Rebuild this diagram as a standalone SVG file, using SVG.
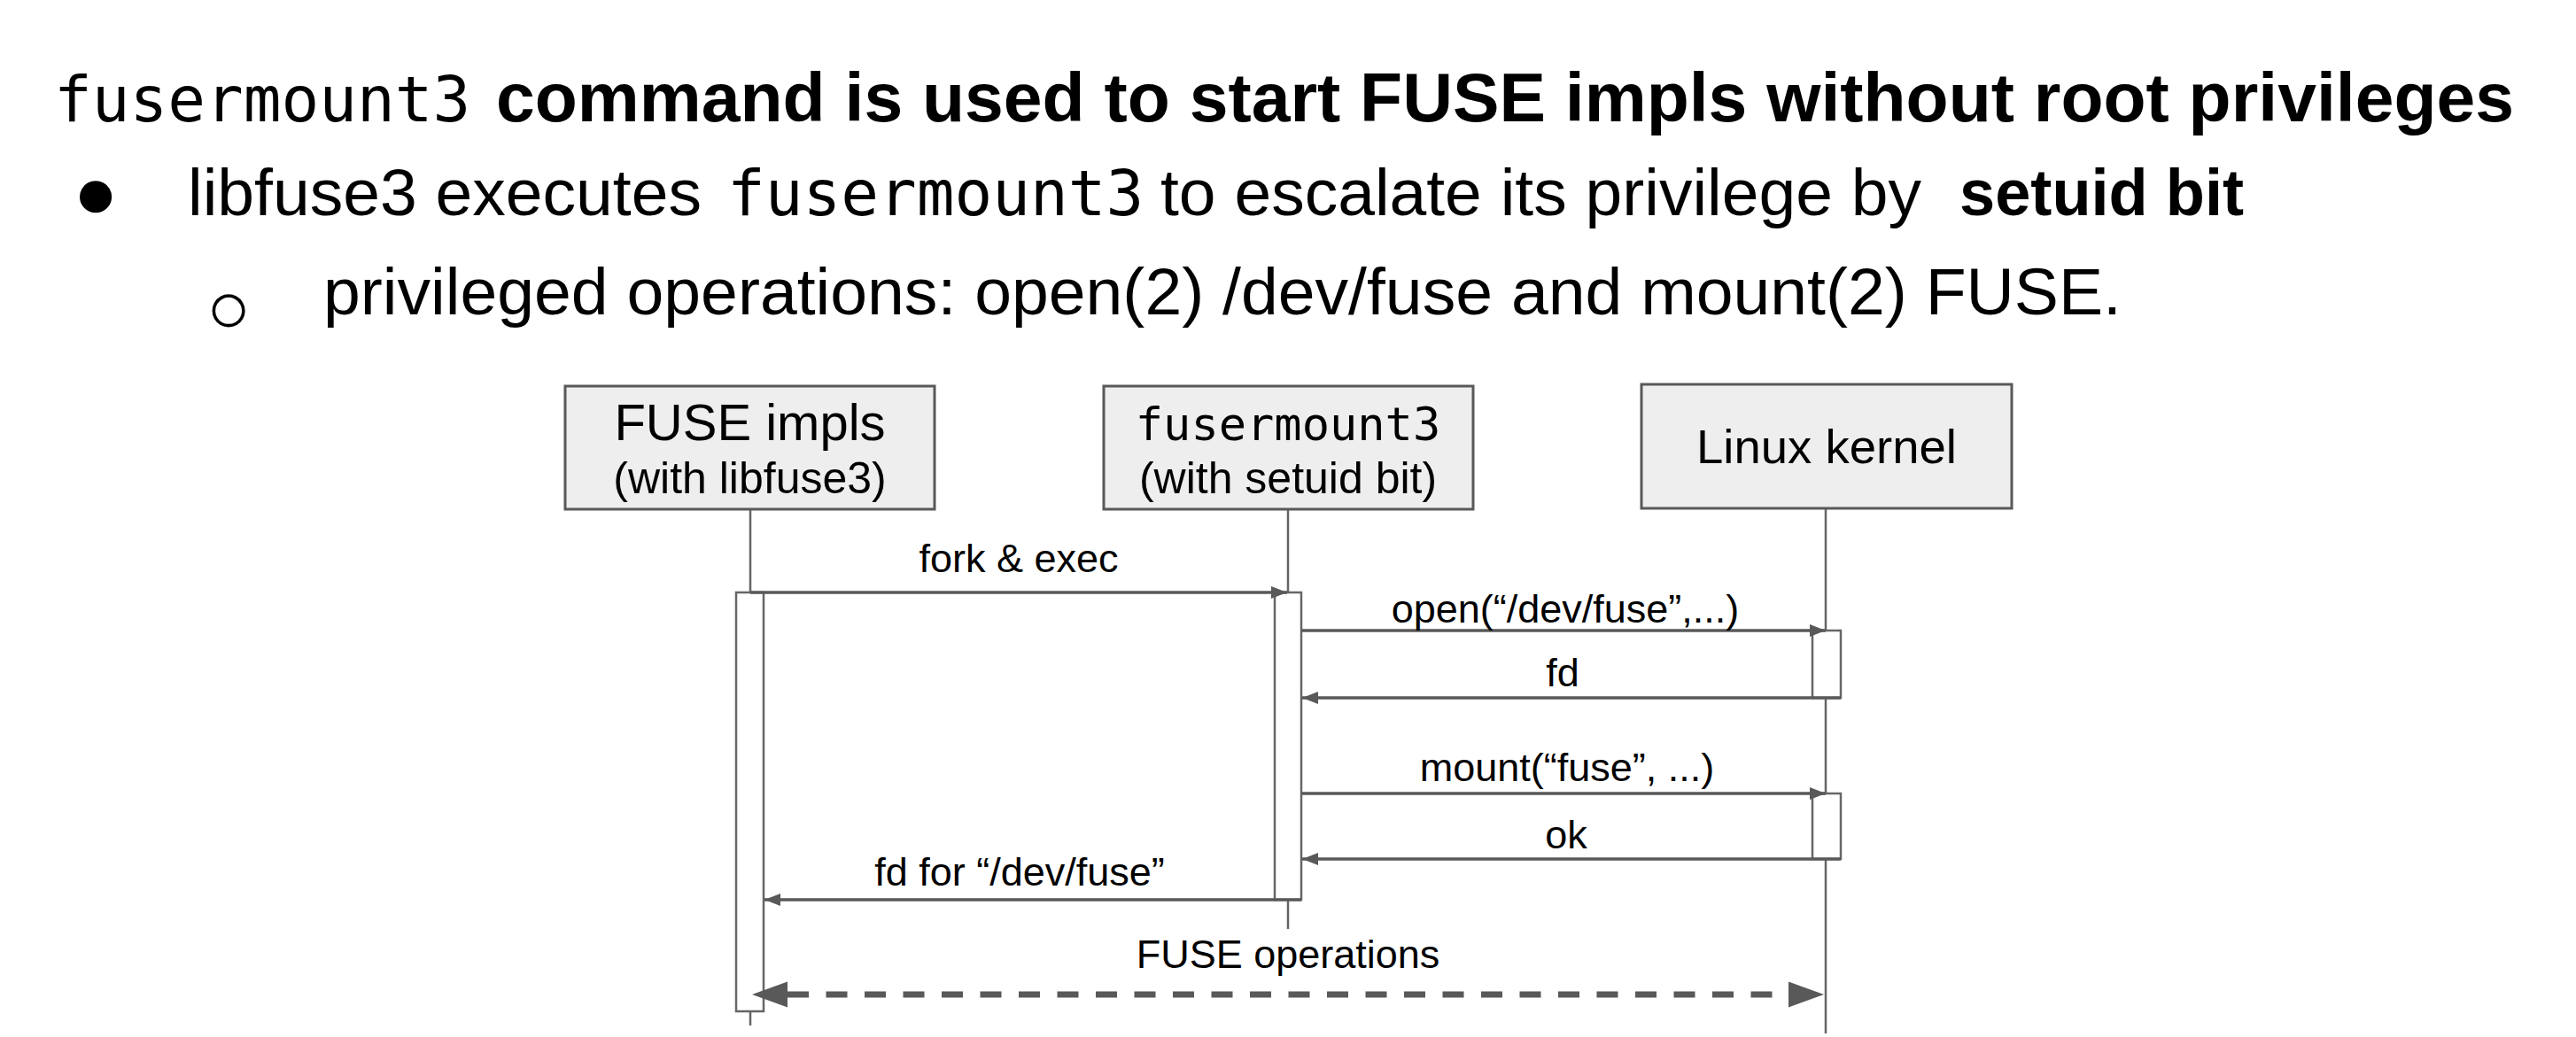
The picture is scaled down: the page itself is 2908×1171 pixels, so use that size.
<svg xmlns="http://www.w3.org/2000/svg" width="2908" height="1171" viewBox="0 0 2908 1171">
<defs>
<style>
.sans{font-family:"Liberation Sans",Arial,Helvetica,sans-serif;fill:#000}
.mono{font-family:"DejaVu Sans Mono","Liberation Mono",monospace;fill:#000}
.bold{font-weight:bold}
.box{fill:#eeeeee;stroke:#595959;stroke-width:3}
.life{stroke:#666666;stroke-width:2.5;fill:none}
.act{fill:#ffffff;stroke:#666666;stroke-width:2.5}
.msg{stroke:#595959;stroke-width:3.5;fill:none;marker-end:url(#ah)}
.lbl{font-size:45px;text-anchor:middle}
.dash{stroke:#595959;stroke-width:7;fill:none;stroke-dasharray:24 19.5;marker-start:url(#big);marker-end:url(#big)}
</style>
<marker id="ah" markerUnits="userSpaceOnUse" markerWidth="20" markerHeight="16" refX="18" refY="7" orient="auto">
<path d="M0,0 L18,7 L0,14 z" fill="#595959"/>
</marker>
<marker id="big" markerUnits="userSpaceOnUse" markerWidth="42" markerHeight="30" refX="0" refY="14.5" orient="auto-start-reverse">
<path d="M0,0 L40,14.5 L0,29 z" fill="#595959"/>
</marker>
</defs>
<rect width="2908" height="1171" fill="#ffffff"/>

<g id="header">
<text class="mono" x="61" y="137" font-size="71">fusermount3</text>
<text class="sans bold" x="560" y="137" font-size="78" textLength="2278" lengthAdjust="spacingAndGlyphs">command is used to start FUSE impls without root privileges</text>
<text class="sans" x="108" y="246" font-size="84" text-anchor="middle">●</text>
<text class="sans" x="212" y="243" font-size="75" textLength="580" lengthAdjust="spacingAndGlyphs">libfuse3 executes</text>
<text class="mono" x="821" y="243" font-size="71">fusermount3</text>
<text class="sans" x="1310" y="243" font-size="75" textLength="859" lengthAdjust="spacingAndGlyphs">to escalate its privilege by</text>
<text class="sans bold" x="2212" y="243" font-size="75" textLength="321" lengthAdjust="spacingAndGlyphs">setuid bit</text>
<text class="sans" x="258" y="376" font-size="84" text-anchor="middle">○</text>
<text class="sans" x="365" y="355" font-size="75" textLength="2030" lengthAdjust="spacingAndGlyphs">privileged operations: open(2) /dev/fuse and mount(2) FUSE.</text>
</g>

<g id="lifelines">
<line class="life" x1="847" y1="575" x2="847" y2="1158"/>
<line class="life" x1="1454" y1="575" x2="1454" y2="1049"/>
<line class="life" x1="2061" y1="574" x2="2061" y2="1167"/>
</g>

<g id="node-fuse-impls">
<rect class="box" x="638" y="436" width="417" height="139"/>
<text class="sans" x="846.5" y="497" font-size="58" text-anchor="middle">FUSE impls</text>
<text class="sans" x="846.5" y="557" font-size="50" text-anchor="middle">(with libfuse3)</text>
<rect class="act" x="831" y="669" width="31" height="473"/>
</g>

<g id="node-fusermount3">
<rect class="box" x="1246" y="436" width="417" height="139"/>
<text class="mono" x="1454" y="497" font-size="52" text-anchor="middle">fusermount3</text>
<text class="sans" x="1454" y="557" font-size="50" text-anchor="middle">(with setuid bit)</text>
<rect class="act" x="1439" y="669" width="30" height="347"/>
</g>

<g id="node-linux-kernel">
<rect class="box" x="1853" y="434" width="418" height="140"/>
<text class="sans" x="2062" y="523" font-size="54.5" text-anchor="middle">Linux kernel</text>
<rect class="act" x="2046" y="712" width="32" height="76"/>
<rect class="act" x="2046" y="896" width="32" height="74"/>
</g>

<g id="connectors">
<line class="msg" x1="847" y1="669" x2="1453" y2="669"/>
<text class="sans lbl" x="1150" y="646">fork &amp; exec</text>
<line class="msg" x1="1469" y1="712" x2="2061" y2="712"/>
<text class="sans lbl" x="1767" y="703">open(“/dev/fuse”,...)</text>
<line class="msg" x1="2078" y1="788" x2="1470" y2="788"/>
<text class="sans lbl" x="1764" y="775">fd</text>
<line class="msg" x1="1469" y1="896" x2="2061" y2="896"/>
<text class="sans lbl" x="1769" y="882">mount(“fuse”, ...)</text>
<line class="msg" x1="2078" y1="970" x2="1470" y2="970"/>
<text class="sans lbl" x="1768" y="958">ok</text>
<line class="msg" x1="1469" y1="1016" x2="863" y2="1016"/>
<text class="sans lbl" x="1151" y="1000">fd for “/dev/fuse”</text>
<line class="dash" x1="889" y1="1123" x2="2019" y2="1123"/>
<text class="sans lbl" x="1454" y="1093">FUSE operations</text>
</g>
</svg>
